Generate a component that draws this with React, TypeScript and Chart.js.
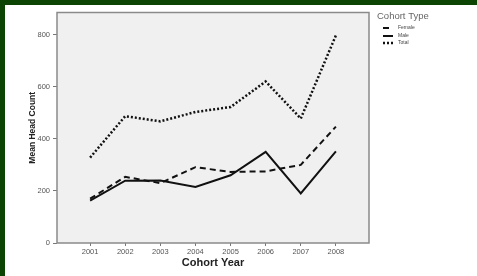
import { useEffect, useRef } from "react";
import { Chart, registerables } from "chart.js";

Chart.register(...registerables);

const years = [2001, 2002, 2003, 2004, 2005, 2006, 2007, 2008];
const female = [170, 254, 230, 291, 273, 275, 300, 447];
const male = [163, 239, 240, 215, 260, 350, 190, 352];
const total = [328, 487, 467, 503, 522, 620, 478, 797];
const yTicks = [0, 200, 400, 600, 800];
const seriesNames = ["Female", "Male", "Total"];
const legendTitle = "Cohort Type";
const xTitle = "Cohort Year";
const yTitle = "Mean Head Count";

const FONT = "'Liberation Sans', Arial, sans-serif";

const framePlugin = {
  id: "frame",
  beforeDraw(chart: any) {
    const { ctx, chartArea: a } = chart;
    ctx.save();
    ctx.fillStyle = "#f0f0f0";
    ctx.fillRect(a.left, a.top, a.right - a.left, a.bottom - a.top);
    ctx.restore();
  },
  afterDatasetsDraw(chart: any) {
    const { ctx, chartArea: a } = chart;
    ctx.save();
    ctx.strokeStyle = "#8a8a8a";
    ctx.lineWidth = 1.5;
    ctx.strokeRect(a.left, a.top, a.right - a.left, a.bottom - a.top);
    ctx.restore();
  },
  afterDraw(chart: any) {
    const { ctx, chartArea: a } = chart;
    const x0 = a.right + 8;
    ctx.save();
    ctx.fillStyle = "#666";
    ctx.font = `9.5px ${FONT}`;
    ctx.textBaseline = "middle";
    ctx.textAlign = "left";
    ctx.fillText(legendTitle, x0, 11);
    const rows = [23, 31, 38];
    chart.data.datasets.forEach((ds: any, i: number) => {
      const y = rows[i];
      ctx.strokeStyle = "#111";
      ctx.lineWidth = ds.borderWidth;
      ctx.setLineDash(ds.borderDash || []);
      ctx.beginPath();
      ctx.moveTo(x0 + 6, y);
      ctx.lineTo(x0 + 16, y);
      ctx.stroke();
      ctx.setLineDash([]);
      ctx.fillStyle = "#444";
      ctx.font = `5px ${FONT}`;
      ctx.fillText(ds.label, x0 + 21, y);
    });
    ctx.restore();
  },
};

export default function App() {
  const ref = useRef<HTMLCanvasElement>(null);
  useEffect(() => {
    const pts = (arr: number[]) => years.map((x, i) => ({ x, y: arr[i] }));
    const chart = new Chart(ref.current!, {
      type: "line",
      data: {
        datasets: [
          { label: seriesNames[0], data: pts(female), borderColor: "#111", borderWidth: 2, borderDash: [6, 4], pointRadius: 0, fill: false, tension: 0 },
          { label: seriesNames[1], data: pts(male), borderColor: "#111", borderWidth: 2, pointRadius: 0, fill: false, tension: 0 },
          { label: seriesNames[2], data: pts(total), borderColor: "#111", borderWidth: 2.5, borderDash: [2, 2], pointRadius: 0, fill: false, tension: 0 },
        ],
      },
      options: {
        animation: false,
        responsive: false,
        maintainAspectRatio: false,
        layout: { padding: { left: 0, top: 3, right: 108, bottom: 0 } },
        plugins: { legend: { display: false }, tooltip: { enabled: false } },
        scales: {
          x: {
            type: "linear",
            min: 2000.057,
            max: 2008.943,
            afterBuildTicks: (s: any) => { s.ticks = years.map((v) => ({ value: v })); },
            afterFit: (s: any) => { s.height = 33; },
            ticks: { color: "#555", font: { size: 7.5, family: FONT }, padding: 1, maxRotation: 0, callback: (v: any) => String(v) },
            grid: { display: true, drawOnChartArea: false, drawTicks: true, tickLength: 3, color: "#777" },
            border: { display: false },
            title: { display: true, text: xTitle, color: "#222", font: { size: 11, weight: "bold", family: FONT }, padding: { top: 2, bottom: 6 } },
          },
          y: {
            min: 0,
            max: 885,
            afterBuildTicks: (s: any) => { s.ticks = yTicks.map((v) => ({ value: v })); },
            afterFit: (s: any) => { s.width = 52; },
            ticks: { color: "#555", font: { size: 7.5, family: FONT }, padding: 3, callback: (v: any) => String(v) },
            grid: { display: true, drawOnChartArea: false, drawTicks: true, tickLength: 4, color: "#777" },
            border: { display: false },
            title: { display: true, text: yTitle, color: "#222", font: { size: 8.5, weight: "bold", family: FONT }, padding: { top: 23, bottom: 2 } },
          },
        },
      },
      plugins: [framePlugin],
    } as any);
    return () => chart.destroy();
  }, []);
  return (
    <div style={{ position: "fixed", left: 0, top: 0, width: 477, height: 276, background: "#0c4403", overflow: "hidden" }}>
      <div style={{ position: "absolute", left: 5, top: 5, width: 472, height: 271, background: "#ffffff" }}>
        <canvas ref={ref} width={472} height={271} style={{ display: "block", width: 472, height: 271 }} />
      </div>
    </div>
  );
}
